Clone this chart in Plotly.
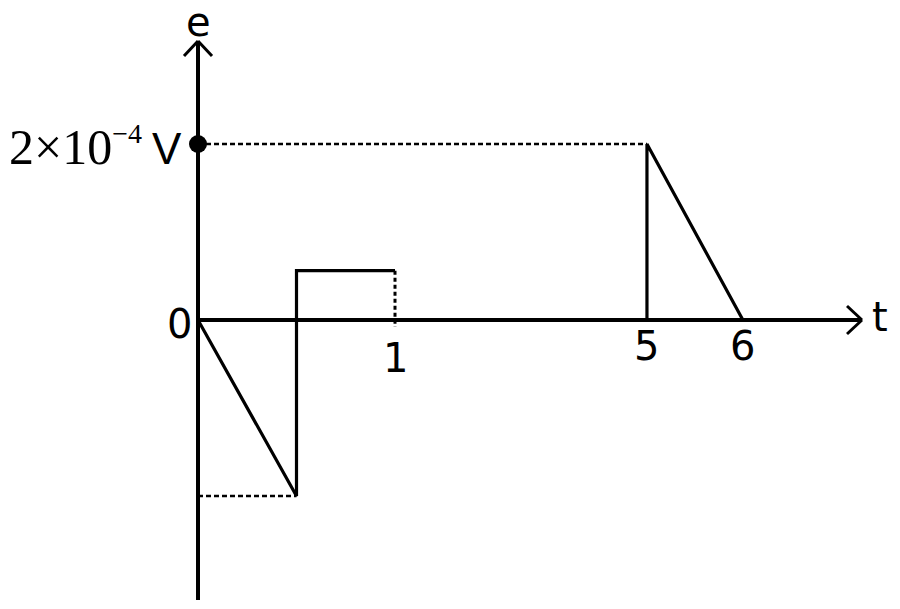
import numpy as np
import plotly.graph_objects as go

# ---- data (t in s, e in V) ----
t_first = [0, 0.5, 0.5, 1]
e_first = [0, -2e-4, 0.56e-4, 0.56e-4]
t_step_drop = [1, 1]
e_step_drop = [0.56e-4, -0.08e-4]
t_second = [5, 5, 6]
e_second = [0, 2e-4, 0]
t_peak_guide = [0, 5]
e_peak_guide = [2e-4, 2e-4]
t_min_guide = [0, 0.5]
e_min_guide = [-2e-4, -2e-4]
t_labels = [1, 5, 6]
e_label_value = 2e-4

# ---- broken time axis (scale) ----
BREAK_T = [0, 1, 5, 6]
BREAK_POS = [0, 1, 2.279, 2.766]


def tpos(t):
    return list(np.interp(t, BREAK_T, BREAK_POS))


W, H = 900, 609
X0PX, Y0PX = 190, 312   # origin inside the plot (page adds ~8px offset)
XSCALE = 197.0          # px per axis unit
YSCALE = 88.0 / 1e-4    # px per volt

xr = [-X0PX / XSCALE, (W - X0PX) / XSCALE]
yr = [-(H - Y0PX) / YSCALE, Y0PX / YSCALE]

black = "black"
fig = go.Figure()

fig.add_trace(go.Scatter(x=tpos(t_first), y=e_first, mode="lines",
                         line=dict(color=black, width=3.2)))
fig.add_trace(go.Scatter(x=tpos(t_step_drop), y=e_step_drop, mode="lines",
                         line=dict(color=black, width=3, dash="4px,3px")))
fig.add_trace(go.Scatter(x=tpos(t_second), y=e_second, mode="lines",
                         line=dict(color=black, width=3.2)))
fig.add_trace(go.Scatter(x=tpos(t_peak_guide), y=e_peak_guide, mode="lines",
                         line=dict(color=black, width=2.5, dash="5px,3px")))
fig.add_trace(go.Scatter(x=tpos(t_min_guide), y=e_min_guide, mode="lines",
                         line=dict(color=black, width=2.5, dash="5px,3px")))
fig.add_trace(go.Scatter(x=[0], y=[e_label_value], mode="markers",
                         marker=dict(color=black, size=18)))

# axes with arrows
x_end = (862 - 8 - X0PX) / XSCALE
y_top = (Y0PX - 33) / YSCALE
y_bot = -(600 - 8 - Y0PX) / YSCALE
shapes = [
    dict(type="line", x0=0, x1=x_end, y0=0, y1=0, xref="x", yref="y",
         line=dict(color=black, width=4)),
    dict(type="line", x0=0, x1=0, y0=y_bot, y1=y_top, xref="x", yref="y",
         line=dict(color=black, width=4)),
]
# arrowheads (pixel-sized chevrons)
for (dx, dy) in [(-14, -15), (14, -15)]:
    shapes.append(dict(type="line", xref="x", yref="y", xsizemode="pixel",
                       ysizemode="pixel", xanchor=0, yanchor=y_top,
                       x0=0, y0=0, x1=dx, y1=dy,
                       line=dict(color=black, width=3)))
for (dx, dy) in [(-15, 14), (-15, -14)]:
    shapes.append(dict(type="line", xref="x", yref="y", xsizemode="pixel",
                       ysizemode="pixel", xanchor=x_end, yanchor=0,
                       x0=0, y0=0, x1=dx, y1=dy,
                       line=dict(color=black, width=3)))

sans = dict(family="DejaVu Sans", size=40, color=black)
ann = [
    dict(x=0, y=y_top, text="e", showarrow=False, yanchor="bottom",
         yshift=-6, font=sans),
    dict(x=x_end, y=0, text="t", showarrow=False, xanchor="left",
         xshift=8, yshift=3, font=sans),
    dict(x=0, y=0, text="0", showarrow=False, xanchor="right",
         xshift=-4, yshift=-4, font=sans),
    dict(x=0, y=e_label_value,
         text="2×10<sup><span style='font-size:28px'>−4</span></sup>\u2009<span style='font-family:Liberation Sans;font-size:44px'>V</span>",
         showarrow=False, xanchor="right", xshift=-14, yshift=-2,
         font=dict(family="Liberation Serif", size=50, color=black)),
]
label_yshift = [-38, -26, -26]
for tv, p, ys in zip(t_labels, tpos(t_labels), label_yshift):
    ann.append(dict(x=p, y=0, text=str(tv), showarrow=False, yshift=ys,
                    font=sans))

fig.update_layout(
    width=W, height=H, margin=dict(l=0, r=0, t=0, b=0),
    plot_bgcolor="white", paper_bgcolor="white", showlegend=False,
    xaxis=dict(range=xr, visible=False, fixedrange=True),
    yaxis=dict(range=yr, visible=False, fixedrange=True),
    shapes=shapes, annotations=ann,
)
fig.write_html("out.html")
